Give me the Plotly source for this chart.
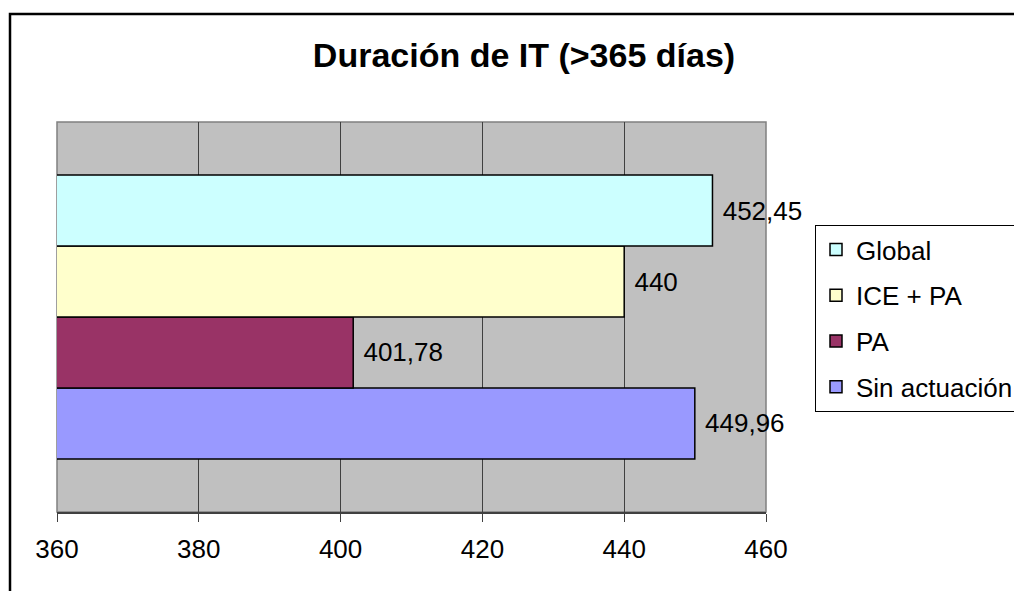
import plotly.graph_objects as go

# series, bottom to top as drawn
series_names = ["Sin actuación", "PA", "ICE + PA", "Global"]
series_values = [449.96, 401.78, 440, 452.45]
series_colors = ["#9999FF", "#993366", "#FFFFCC", "#CCFFFF"]
legend_ranks = [4, 3, 2, 1]
category = ["IT"]
tick_values = [360, 380, 400, 420, 440, 460]

FONT = "Arial, Liberation Sans, sans-serif"

# the page body has an 8px margin, so work in shifted pixel coords
OFF = 8
W, H = 1022 - OFF, 591 - OFF
L, R, T, B = 57 - OFF, 766 - OFF, 122 - OFF, 512 - OFF


def px_to_paper_x(px):
    return (px - OFF - L) / (R - L)


def px_to_paper_y(py):
    return (B - (py - OFF)) / (B - T)


fig = go.Figure()
for name, value, color, rank in zip(series_names, series_values, series_colors, legend_ranks):
    label = "\u00a0" + f"{value:g}".replace(".", ",")
    fig.add_trace(go.Bar(
        name=name,
        x=[value],
        y=category,
        orientation="h",
        marker={"color": color, "line": {"color": "#000000", "width": 1.5}},
        text=[label],
        textposition="outside",
        textfont={"size": 26, "color": "#000000", "family": FONT},
        cliponaxis=False,
        constraintext="none",
        legendgroup=name,
        legendrank=rank,
        hoverinfo="x+name",
    ))

fig.update_layout(
    width=W,
    height=H,
    margin={"l": L, "r": W - R, "t": T, "b": H - B, "autoexpand": False},
    paper_bgcolor="#FFFFFF",
    plot_bgcolor="#C0C0C0",
    font={"family": FONT, "color": "#000000", "size": 26},
    barmode="group",
    bargap=0.272,
    bargroupgap=0,
    title={
        "text": "<b>Duración de IT (>365 días)</b>",
        "font": {"size": 34, "family": FONT, "color": "#000000"},
        "x": (524 - OFF) / W,
        "xanchor": "center",
        "xref": "container",
        "y": 1 - (55 - OFF) / H,
        "yanchor": "middle",
        "yref": "container",
    },
    legend={
        "x": px_to_paper_x(815),
        "xanchor": "left",
        "y": px_to_paper_y(225),
        "yanchor": "top",
        "bgcolor": "#FFFFFF",
        "bordercolor": "#000000",
        "borderwidth": 1,
        "font": {"size": 26, "family": FONT, "color": "#000000"},
        "traceorder": "grouped",
        "tracegroupgap": 9,
        "itemwidth": 30,
    },
    shapes=[
        # outer chart border, runs off the right and bottom edges
        {
            "type": "rect", "xref": "paper", "yref": "paper",
            "x0": px_to_paper_x(10), "x1": px_to_paper_x(1022 + 20),
            "y0": px_to_paper_y(591 + 20), "y1": px_to_paper_y(14),
            "line": {"color": "#000000", "width": 2.5},
            "layer": "below",
        },
        # plot area border
        {
            "type": "rect", "xref": "paper", "yref": "paper",
            "x0": 0, "x1": 1, "y0": 0, "y1": 1,
            "line": {"color": "#808080", "width": 1.5},
            "layer": "below",
        },
    ],
)

fig.update_xaxes(
    range=[360, 460],
    tickvals=tick_values,
    ticks="outside",
    ticklen=8,
    tickcolor="#404040",
    ticklabelstandoff=5,
    tickfont={"size": 26, "family": FONT, "color": "#000000"},
    showgrid=True,
    gridcolor="#404040",
    gridwidth=1,
    showline=True,
    linecolor="#404040",
    linewidth=1.5,
    zeroline=False,
    fixedrange=True,
)
fig.update_yaxes(
    showticklabels=False,
    showgrid=False,
    zeroline=False,
    fixedrange=True,
)

fig.write_html("out.html")
